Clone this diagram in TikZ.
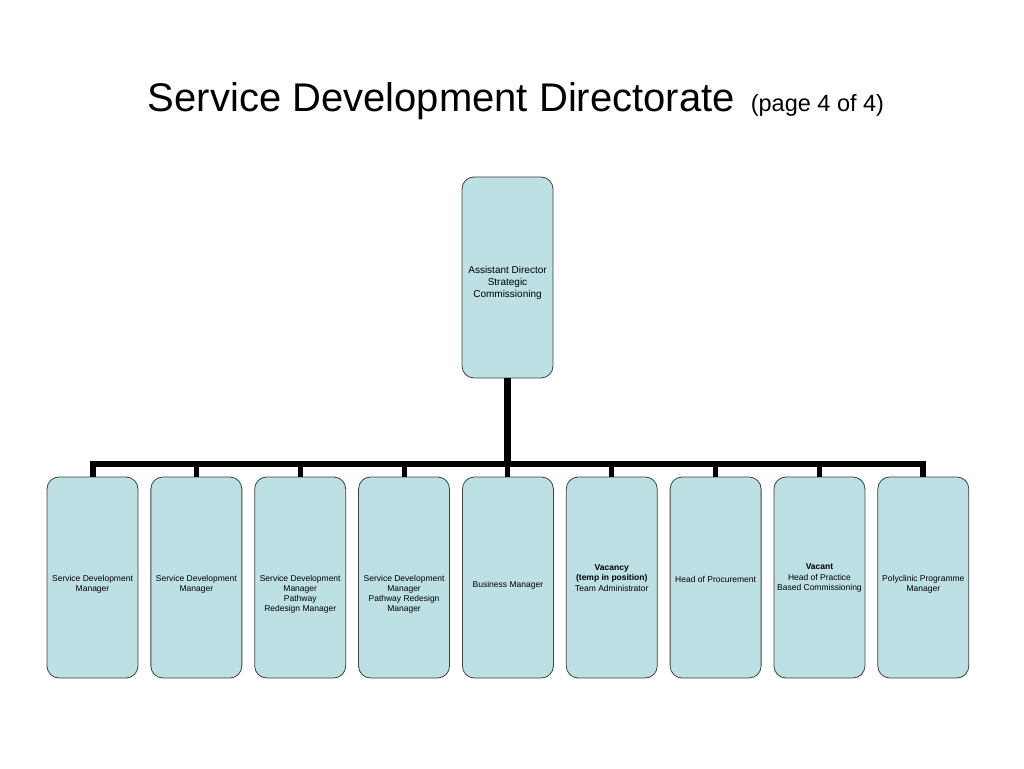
\documentclass[tikz,border=0pt]{standalone}
\usepackage{fontspec}
\setmainfont{Liberation Sans}
\definecolor{boxfill}{RGB}{189,224,228}
\definecolor{boxline}{RGB}{64,64,64}
\tikzset{
	post/.style={draw=boxline,fill=boxfill,line width=0.8pt,rounded corners=12pt,
		minimum width=91pt,minimum height=201pt,inner sep=0pt},
	lbl/.style={align=center,inner sep=0pt,font=\fontsize{8.5}{10.2}\selectfont},
	bus/.style={line width=6pt,line join=miter}
}
\begin{document}
\begin{tikzpicture}[x=1pt,y=1pt]
	\def\xa{92.5} \def\dx{103.85} \def\ylow{190.5} \def\yrail{304}
	\useasboundingbox (0,0) rectangle (1024,768);
	\node[anchor=base] (title) at (516,656)
		{\fontsize{40}{48}\selectfont Service Development Directorate\hspace{16pt}\fontsize{23.5}{28}\selectfont(page 4 of 4)};
	\coordinate (rail) at (0,\yrail);
	% top post
	\node[post] (head) at (507.5,490.5) {};
	\node[lbl,font=\fontsize{10}{12}\selectfont] (headtxt) at ([yshift=-5]head.center)
		{Assistant Director\\Strategic\\Commissioning};
	% lower row
	\node[post] (sdma) at (\xa,\ylow) {};
	\node[post] (sdmb) at (\xa+\dx,\ylow) {};
	\node[post] (sdmc) at (\xa+\dx*2,\ylow) {};
	\node[post] (sdmd) at (\xa+\dx*3,\ylow) {};
	\node[post] (bm) at (\xa+\dx*4,\ylow) {};
	\node[post] (ta) at (\xa+\dx*5,\ylow) {};
	\node[post] (hop) at (\xa+\dx*6,\ylow) {};
	\node[post] (hpbc) at (\xa+\dx*7,\ylow) {};
	\node[post] (ppm) at (\xa+\dx*8,\ylow) {};
	\node[lbl] at ([yshift=-6.5]sdma.center) {Service Development\\Manager};
	\node[lbl] at ([yshift=-6.5]sdmb.center) {Service Development\\Manager};
	\node[lbl] at ([yshift=-17]sdmc.center) {Service Development\\Manager\\Pathway\\Redesign Manager};
	\node[lbl] at ([yshift=-17]sdmd.center) {Service Development\\Manager\\Pathway Redesign\\Manager};
	\node[lbl] at ([yshift=-7.5]bm.center) {Business Manager};
	\node[lbl] at ([yshift=-0.5]ta.center) {\textbf{Vacancy}\\\textbf{(temp in position)}\\Team Administrator};
	\node[lbl] at ([yshift=-1.5]hop.center) {Head of Procurement};
	\node[lbl] at ([yshift=-0.5]hpbc.center) {\textbf{Vacant}\\Head of Practice\\Based Commissioning};
	\node[lbl] at ([yshift=-6.5]ppm.center) {Polyclinic Programme\\Manager};
	% connectors
	\draw[line width=7pt] (head.south) -- (head.south |- rail);
	\draw[bus] (sdma.north) -- (sdma.north |- rail) -- (ppm.north |- rail) -- (ppm.north);
	\draw[line width=5pt] (sdmb.north) -- (sdmb.north |- rail) (sdmc.north) -- (sdmc.north |- rail)
		(sdmd.north) -- (sdmd.north |- rail) (bm.north) -- (bm.north |- rail)
		(ta.north) -- (ta.north |- rail) (hop.north) -- (hop.north |- rail)
		(hpbc.north) -- (hpbc.north |- rail);
\end{tikzpicture}
\end{document}
